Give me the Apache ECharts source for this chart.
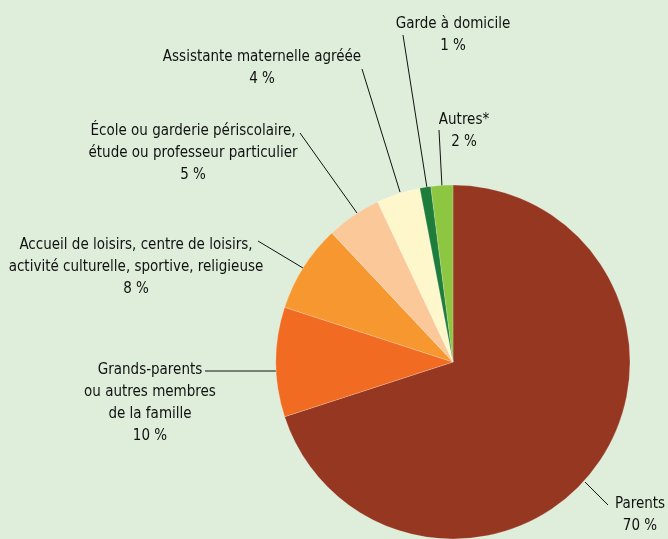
<!DOCTYPE html>
<html>
<head>
<meta charset="utf-8">
<title>Mode de garde</title>
<script src="https://cdn.jsdelivr.net/npm/echarts@6/dist/echarts.min.js"></script>
<style>
  body, html { margin: 0; padding: 0; }
  body { background: #deeedb; }
  #chart { width: 668px; height: 539px; }
</style>
</head>
<body>
<div id="chart"></div>
<script>
var categories = [
    'Parents',
    'Grands-parents\nou autres membres\nde la famille',
    'Accueil de loisirs, centre de loisirs,\nactivité culturelle, sportive, religieuse',
    'École ou garderie périscolaire,\nétude ou professeur particulier',
    'Assistante maternelle agréée',
    'Garde à domicile',
    'Autres*'
];
var values = [70, 10, 8, 5, 4, 1, 2];
var colors = ['#963821', '#f26b22', '#f7972f', '#fbc89a', '#fff7cc', '#1f7d3c', '#8dc641'];

// label anchor (centre x, top y), leader line start on the pie and end near the text
var labelPos = [[640, 493], [150, 359], [136, 234], [193, 120], [262, 46], [453, 13], [464, 109]];
var lineStart = [[585, 482], [276, 371], [303, 268], [357, 213], [400, 192], [427, 188], [442, 187]];
var lineEnd = [[608, 505], [205, 371], [258, 241], [300, 133], [362, 69], [403, 35], [439, 130]];

var chart = echarts.init(document.getElementById('chart'));

var data = categories.map(function (c, i) {
    return { name: c, value: values[i], itemStyle: { color: colors[i] } };
});

chart.setOption({
    backgroundColor: '#deeedb',
    animation: false,
    series: [{
        type: 'pie',
        center: [453, 362],
        radius: 177,
        startAngle: 90,
        clockwise: true,
        avoidLabelOverlap: false,
        data: data,
        itemStyle: { borderColor: 'rgba(255,255,255,0.5)', borderWidth: 0.4 },
        label: {
            show: true,
            position: 'outside',
            formatter: function (p) { return p.name + '\n' + p.value + ' %'; },
            fontFamily: '"DejaVu Sans Condensed", "Liberation Sans Narrow", sans-serif',
            fontSize: 15,
            lineHeight: 22,
            color: '#111',
            align: 'center'
        },
        labelLine: {
            show: true,
            length: 10,
            length2: 10,
            lineStyle: { color: '#111', width: 1 }
        },
        labelLayout: function (p) {
            var i = p.dataIndex;
            return {
                x: labelPos[i][0],
                y: labelPos[i][1],
                align: 'center',
                verticalAlign: 'top',
                labelLinePoints: [lineStart[i], lineEnd[i], lineEnd[i]]
            };
        }
    }]
});
</script>
</body>
</html>
